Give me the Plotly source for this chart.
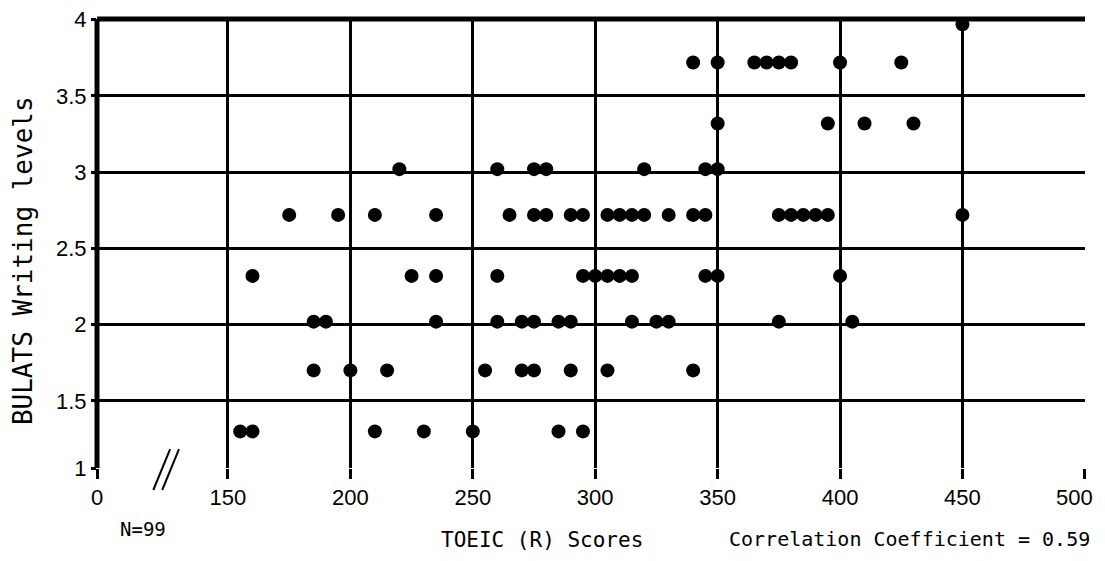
import plotly.graph_objects as go

# ---- data (TOEIC score, BULATS writing level) ----
level_13_x = [155, 160, 210, 230, 250, 285, 295]
level_17_x = [185, 200, 215, 255, 270, 275, 290, 305, 340]
level_20_x = [185, 190, 235, 260, 270, 275, 285, 290, 315, 325, 330, 375, 405]
level_23_x = [160, 225, 235, 260, 295, 300, 305, 310, 315, 345, 350, 400]
level_27_x = [175, 195, 210, 235, 265, 275, 280, 290, 295, 305, 310, 315, 320,
              330, 340, 345, 375, 380, 385, 390, 395, 450]
level_30_x = [220, 260, 275, 280, 320, 345, 350]
level_33_x = [350, 395, 410, 430]
level_37_x = [340, 350, 365, 370, 375, 380, 400, 425]
level_40_x = [450]

levels = [1.3, 1.7, 2.02, 2.32, 2.72, 3.02, 3.32, 3.72, 3.97]
groups = [level_13_x, level_17_x, level_20_x, level_23_x, level_27_x,
          level_30_x, level_33_x, level_37_x, level_40_x]

x_tickvals = [96.5, 150, 200, 250, 300, 350, 400, 450, 500]
x_ticktext = ["0", "150", "200", "250", "300", "350", "400", "450", "500"]
y_tickvals = [1.06, 1.5, 2, 2.5, 3, 3.5, 4]
y_ticktext = ["1", "1.5", "2", "2.5", "3", "3.5", "4"]

xs, ys = [], []
for lv, g in zip(levels, groups):
    xs += g
    ys += [lv] * len(g)

FONT = "Liberation Sans, Arial, sans-serif"
MONO = "DejaVu Sans Mono, Liberation Mono, monospace"

fig = go.Figure()
fig.add_trace(go.Scatter(
    x=xs, y=ys, mode="markers",
    marker=dict(symbol="circle", size=14, color="black"),
    hoverinfo="x+y", showlegend=False, cliponaxis=False,
))

# the last x tick label sits at the window edge; it is drawn as an annotation
shown_ticktext = x_ticktext[:-1] + [""]

# page body has an 8px default margin, so the figure is shrunk to fit the window
fig.update_layout(
    width=1097, height=545,
    margin=dict(l=89, r=20, t=11, b=85),
    paper_bgcolor="white", plot_bgcolor="white",
    font=dict(family=FONT, color="black", size=22),
    xaxis=dict(range=[96.5, 500.05], tickvals=x_tickvals, ticktext=shown_ticktext,
               showgrid=True, gridcolor="black", gridwidth=3,
               ticks="outside", ticklen=10, tickwidth=3, tickcolor="black",
               showline=False, zeroline=False, automargin=False,
               ticklabeloverflow="allow", tickfont=dict(size=22)),
    yaxis=dict(range=[1.06, 4.005], tickvals=y_tickvals, ticktext=y_ticktext,
               showgrid=True, gridcolor="black", gridwidth=3,
               ticks="outside", ticklen=5, tickwidth=3, tickcolor="black",
               showline=False, zeroline=False, automargin=False,
               ticklabeloverflow="allow", tickfont=dict(size=22)),
    shapes=[
        dict(type="line", xref="paper", yref="paper", x0=0, x1=1, y0=1, y1=1,
             line=dict(color="black", width=5), layer="below"),
        dict(type="line", xref="paper", yref="paper", x0=0, x1=0, y0=0, y1=1,
             line=dict(color="black", width=5)),
        dict(type="line", xref="paper", yref="paper", x0=0.057, x1=0.074,
             y0=-0.049, y1=0.042, line=dict(color="black", width=2)),
        dict(type="line", xref="paper", yref="paper", x0=0.066, x1=0.083,
             y0=-0.049, y1=0.042, line=dict(color="black", width=2)),
    ],
    annotations=[
        dict(text=x_ticktext[-1], xref="paper", yref="paper",
             x=1.0, y=-0.066, xshift=10, showarrow=False,
             xanchor="right", yanchor="middle", font=dict(family=FONT, size=22)),
        dict(text="BULATS Writing levels", xref="paper", yref="paper",
             x=-0.0749, y=0.463, textangle=-90, showarrow=False,
             xanchor="center", yanchor="middle",
             font=dict(family=MONO, size=26)),
        dict(text="TOEIC (R) Scores", xref="paper", yref="paper",
             x=0.450, y=-0.160, showarrow=False, xanchor="center", yanchor="middle",
             font=dict(family=MONO, size=21)),
        dict(text="Correlation Coefficient = 0.59", xref="paper", yref="paper",
             x=0.822, y=-0.158, showarrow=False, xanchor="center", yanchor="middle",
             font=dict(family=MONO, size=20)),
        dict(text="N=99", xref="paper", yref="paper",
             x=0.0466, y=-0.136, showarrow=False, xanchor="center", yanchor="middle",
             font=dict(family=MONO, size=19)),
    ],
)

fig.write_html("out.html")
